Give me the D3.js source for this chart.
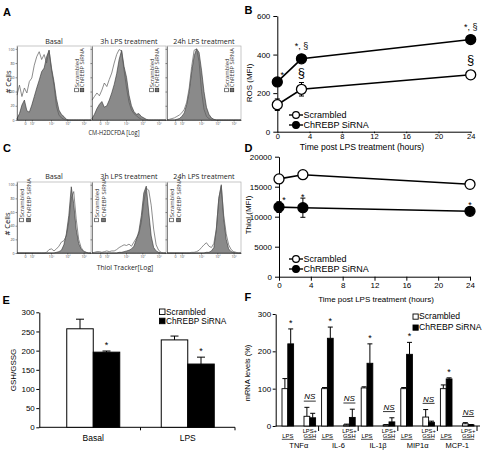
<!DOCTYPE html>
<html><head><meta charset="utf-8">
<script src="https://cdn.jsdelivr.net/npm/d3@7/dist/d3.min.js"></script>
<style>
html,body{margin:0;padding:0;background:#fff;}
svg{display:block;}
</style></head><body>
<svg id="fig" width="486" height="458"></svg>
<script>
// ---------------- DATA ----------------
const seriesNames = ["Scrambled", "ChREBP SiRNA"];
const histTitles = ["Basal", "3h LPS treatment", "24h LPS treatment"];
const histTickBins = [3.3, 6, 13.8, 20.4, 27];
const histTickLabels = ["0", "10²", "10³", "10⁴", "10⁵"];
const histYTicks = [0, 20, 40, 60, 80, 100];
// Panel A: CM-H2DCFDA histograms (% of max, 31 bins across the log axis)
const rosHistBasalScr = [35,49,33,45,38,54,59,77,89,96,85,92,80,98,70,49,19,7,3,1,0,0,0,0,0,0,0,0,0,0,0];
const rosHistBasalChr = [2,9,21,28,13,11,21,33,45,56,68,73,89,98,73,54,30,14,8,5,1,0,0,0,0,0,0,0,0,0,0];
const rosHist3hScr = [28,33,38,34,42,52,47,57,66,80,92,99,97,70,45,25,14,9,6,3,1,0,0,0,0,0,0,0,0,0,0];
const rosHist3hChr = [2,8,16,22,26,18,20,28,38,50,65,85,98,75,60,35,20,12,8,9,5,3,1,0,0,0,0,0,0,0,0];
const rosHist24hScr = [0,1,2,3,5,7,10,15,25,45,75,98,100,82,40,15,5,2,0,0,0,0,0,0,0,0,0,0,0,0,0];
const rosHist24hChr = [0,0,0,0,1,2,5,10,22,40,68,90,100,95,70,40,18,8,3,1,0,0,0,0,0,0,0,0,0,0,0];
// Panel C: Thiol Tracker histograms
const thiolHistBasalScr = [0,0,0,0,0,0,0,0,0,0,0,0,1,5,6,3,6,10,16,18,25,45,80,90,50,20,8,3,1,0,0];
const thiolHistBasalChr = [0,0,0,0,0,0,0,0,0,0,0,0,0,0,0,0,1,2,4,12,28,55,97,72,35,14,6,2,1,0,0];
const thiolHist3hScr = [0,1,2,2,1,2,3,2,3,3,5,8,10,12,11,13,10,16,22,28,45,75,95,92,70,35,12,4,1,0,0];
const thiolHist3hChr = [0,0,0,0,0,0,0,0,0,0,0,1,1,2,3,4,6,10,20,32,55,88,98,60,25,8,3,1,0,0,0];
const thiolHist24hScr = [0,0,0,0,0,0,0,0,0,0,1,1,2,4,8,12,15,10,8,14,35,80,98,55,28,12,5,2,1,0,0];
const thiolHist24hChr = [0,0,0,0,0,0,0,0,0,0,0,0,0,0,0,0,1,1,3,8,35,80,100,50,20,6,2,1,0,0,0];
// Panel B: ROS (MFI)
const timeHours = [0, 3, 24];
const timeTicks = [0, 4, 8, 12, 16, 20, 24];
const rosTicks = [0, 200, 400, 600];
const rosScr = [140, 220, 295], rosScrErr = [30, 35, 8];
const rosChr = [258, 378, 478], rosChrErr = [12, 15, 12];
const rosScrMarks = ["", "§", "§"];
const rosChrMarks = ["*", "*, §", "*, §"];
// Panel D: Thiol (MFI)
const thiolTicks = [0, 5000, 10000, 15000, 20000];
const thiolScr = [16300, 17000, 15400], thiolScrErr = [500, 300, 300];
const thiolChr = [11600, 11500, 10900], thiolChrErr = [900, 1600, 400];
const thiolScrMarks = ["", "", ""];
const thiolChrMarks = ["*", "*", "*"];
// Panel E: GSH/GSSG
const gshGroups = ["Basal", "LPS"];
const gshTicks = [0, 50, 100, 150, 200, 250, 300];
const gshScr = [257, 228], gshScrErr = [25, 10];
const gshChr = [196, 165], gshChrErr = [3, 18];
const gshChrMarks = ["*", "*"];
// Panel F: mRNA levels (%)
const genes = ["TNFα", "IL-6", "IL-1β", "MIP1α", "MCP-1"];
const conditions = ["LPS", "LPS+GSH"];
const conditionLabels = [["LPS"], ["LPS+", "GSH"]];
const mrnaTicks = [0, 100, 200, 300];
const mrnaScrLPS = [100, 100, 102, 100, 100], mrnaScrLPSErr = [27, 3, 3, 3, 10];
const mrnaChrLPS = [220, 235, 168, 192, 126], mrnaChrLPSErr = [40, 30, 52, 32, 3];
const mrnaScrGSH = [26, 3, 3, 24, 6], mrnaScrGSHErr = [24, 2, 1, 20, 3];
const mrnaChrGSH = [22, 23, 11, 10, 3], mrnaChrGSHErr = [12, 22, 11, 3, 1];

// ---------------- DRAWING ----------------
const fig = d3.select("#fig");
const SANS = "'Liberation Sans', Arial, sans-serif";
const OPEN = "'Open Sans', sans-serif";
const HN = rosHistBasalScr.length;

function styleAxis(a, fs, family) {
  a.selectAll("text").attr("font-size", fs).attr("font-family", family).attr("fill", "#000");
  a.selectAll("line,path").attr("stroke", "#000").attr("stroke-width", 1);
}

function histPanel(x0, y0, w, h, scr, chr, showY, legX, legSp, legY, title, titleY) {
  const g = fig.append("g").attr("transform", `translate(${x0},${y0})`);
  const xs = d3.scaleLinear().domain([0, HN - 1]).range([0, w]);
  const ys = d3.scaleLinear().domain([0, 104]).range([h, 0]);
  g.append("rect").attr("width", w).attr("height", h).attr("fill", "#fff")
    .attr("stroke", "#b0b0b0").attr("stroke-width", 0.7);
  g.append("path").datum(chr)
    .attr("d", d3.area().x((d, i) => xs(i)).y0(h).y1(d => ys(d)))
    .attr("fill", "#8a8a8a").attr("stroke", "#333").attr("stroke-width", 0.6);
  g.append("path").datum(scr)
    .attr("d", d3.line().x((d, i) => xs(i)).y(d => ys(d)))
    .attr("fill", "none").attr("stroke", "#5c5c5c").attr("stroke-width", 0.7);
  const xa = g.append("g").attr("transform", `translate(0,${h})`)
    .call(d3.axisBottom(xs).tickValues(histTickBins).tickFormat((d, i) => histTickLabels[i])
      .tickSize(1.5).tickPadding(1).tickSizeOuter(0));
  const ya = g.append("g")
    .call(d3.axisLeft(ys).tickValues(histYTicks).tickFormat(showY ? d3.format("d") : () => "")
      .tickSize(1.5).tickPadding(1).tickSizeOuter(0));
  [xa, ya].forEach(a => {
    a.selectAll("text").attr("font-size", 3.6).attr("font-family", OPEN).attr("fill", "#444");
    a.selectAll("line,path").attr("stroke", "#222").attr("stroke-width", 0.5);
  });
  fig.append("text").attr("x", x0 + w / 2).attr("y", titleY).attr("text-anchor", "middle")
    .attr("font-family", OPEN).attr("font-size", 7.1).attr("fill", "#222").text(title);
  seriesNames.forEach((s, k) => {
    const cx = legX + k * legSp;
    g.append("rect").attr("x", cx - 1.8).attr("y", legY - 1.8).attr("width", 3.6).attr("height", 3.6)
      .attr("fill", k ? "#777" : "#fff").attr("stroke", "#222").attr("stroke-width", 0.6);
    g.append("text").attr("transform", `translate(${cx},${legY - 2.8}) rotate(-90)`)
      .attr("dominant-baseline", "central").attr("font-size", 5.8).attr("font-family", OPEN)
      .attr("fill", "#333").text(s);
  });
}

const histX = [17, 92, 167], histW = 74;
const rosHists = [[rosHistBasalScr, rosHistBasalChr], [rosHist3hScr, rosHist3hChr], [rosHist24hScr, rosHist24hChr]];
const thiolHists = [[thiolHistBasalScr, thiolHistBasalChr], [thiolHist3hScr, thiolHist3hChr], [thiolHist24hScr, thiolHist24hChr]];
rosHists.forEach((p, k) => histPanel(histX[k], 46, histW, 74, p[0], p[1], k === 0, histW - 14.5, 5.5, 44, histTitles[k], 43.5));
thiolHists.forEach((p, k) => histPanel(histX[k], 182, histW, 71, p[0], p[1], k === 0, 4.5, 7, 38, histTitles[k], 179.3));

function rotText(x, y, txt, fs, family) {
  fig.append("text").attr("transform", `translate(${x},${y}) rotate(-90)`).attr("text-anchor", "middle")
    .attr("dominant-baseline", "central").attr("font-size", fs).attr("font-family", family).attr("fill", "#000").text(txt);
}
rotText(8, 82, "# Cells", 7.5, OPEN);
rotText(7, 224, "# Cells", 7.5, OPEN);
fig.append("text").attr("x", 114).attr("y", 134.5).attr("text-anchor", "middle").attr("font-family", OPEN)
  .attr("font-size", 6.8).attr("textLength", 51).attr("lengthAdjust", "spacingAndGlyphs")
  .attr("fill", "#222").text("CM-H2DCFDA [Log]");
fig.append("text").attr("x", 125).attr("y", 269.5).attr("text-anchor", "middle").attr("font-family", OPEN)
  .attr("font-size", 6.8).attr("fill", "#222").text("Thiol Tracker[Log]");

// ---- line panels B & D ----
function linePanel(c) {
  const x = d3.scaleLinear().domain([0, 24]).range([c.x0, c.x1]);
  const y = d3.scaleLinear().domain([0, c.yMax]).range([c.yb, c.yt]);
  const g = fig.append("g");
  const ya = g.append("g").attr("transform", `translate(${c.x0},0)`)
    .call(d3.axisLeft(y).tickValues(c.yTicks).tickFormat(d3.format("d")).tickSize(4).tickPadding(3).tickSizeOuter(0));
  const xa = g.append("g").attr("transform", `translate(0,${c.yb})`)
    .call(d3.axisBottom(x).tickValues(timeTicks).tickSize(c.xTick).tickPadding(c.xPad).tickSizeOuter(0));
  styleAxis(ya, 8, SANS); styleAxis(xa, c.xTickFs, SANS);
  rotText(c.ylabX, c.ylabY, c.ylab, 8, SANS);
  g.append("text").attr("x", c.xlabX).attr("y", c.xlabY).attr("text-anchor", "middle")
    .attr("font-family", SANS).attr("font-size", c.xlabFs).text("Time post LPS treatment (hours)");
  const r = 5;
  const series = [
    { v: c.scr, e: c.scrErr, m: c.scrMarks, fill: "#fff", big: true },
    { v: c.chr, e: c.chrErr, m: c.chrMarks, fill: "#000", big: false }];
  series.forEach(s => {
    g.append("path").datum(s.v)
      .attr("d", d3.line().x((d, i) => x(timeHours[i])).y(d => y(d)))
      .attr("fill", "none").attr("stroke", "#000").attr("stroke-width", 1.6);
  });
  series.forEach(s => {
    s.v.forEach((v, i) => {
      const cx = x(timeHours[i]);
      g.append("line").attr("x1", cx).attr("x2", cx).attr("y1", y(v - s.e[i])).attr("y2", y(v + s.e[i]))
        .attr("stroke", "#000").attr("stroke-width", 1);
      [v - s.e[i], v + s.e[i]].forEach(t => g.append("line").attr("x1", cx - 2.5).attr("x2", cx + 2.5)
        .attr("y1", y(t)).attr("y2", y(t)).attr("stroke", "#000").attr("stroke-width", 1));
    });
  });
  series.forEach(s => {
    s.v.forEach((v, i) => {
      const cx = x(timeHours[i]);
      g.append("circle").attr("cx", cx).attr("cy", y(v)).attr("r", r)
        .attr("fill", s.fill).attr("stroke", "#000").attr("stroke-width", 1.3);
      const lbl = s.m[i];
      if (!lbl) return;
      const top = Math.min(y(v) - r, y(v + s.e[i]));
      const dx = i === 0 ? 5 : 0;
      let base, fs;
      if (s.big) { fs = 13; base = top - 6; }
      else if (lbl.includes("§")) { fs = 9; base = top - 5; }
      else { fs = 9; base = top + 1.5; }
      g.append("text").attr("x", cx + dx).attr("y", base).attr("text-anchor", "middle")
        .attr("font-family", SANS).attr("font-size", fs).text(lbl);
    });
  });
  seriesNames.forEach((n, k) => {
    const ly = c.legY + k * 10;
    g.append("line").attr("x1", c.legX - 7).attr("x2", c.legX + 7).attr("y1", ly).attr("y2", ly)
      .attr("stroke", "#000").attr("stroke-width", 1.4);
    g.append("circle").attr("cx", c.legX).attr("cy", ly).attr("r", 3.4)
      .attr("fill", k ? "#000" : "#fff").attr("stroke", "#000").attr("stroke-width", 1.2);
    g.append("text").attr("x", c.legX + 7.5).attr("y", ly + 3.2).attr("font-family", SANS)
      .attr("font-size", 9).text(n);
  });
}

linePanel({ x0: 277.3, x1: 470.7, yb: 131.7, yt: 16, yMax: 600, yTicks: rosTicks,
  scr: rosScr, scrErr: rosScrErr, chr: rosChr, chrErr: rosChrErr, scrMarks: rosScrMarks, chrMarks: rosChrMarks,
  xTick: 1.5, xPad: 0, xTickFs: 7.5, ylab: "ROS (MFI)", ylabX: 249, ylabY: 83,
  xlabX: 362, xlabY: 149.5, xlabFs: 8.6, legX: 296, legY: 115 });
linePanel({ x0: 279, x1: 470, yb: 276.7, yt: 156.7, yMax: 20000, yTicks: thiolTicks,
  scr: thiolScr, scrErr: thiolScrErr, chr: thiolChr, chrErr: thiolChrErr, scrMarks: thiolScrMarks, chrMarks: thiolChrMarks,
  xTick: 4, xPad: 2, xTickFs: 8, ylab: "Thiol (MFI)", ylabX: 248, ylabY: 215,
  xlabX: 376, xlabY: 301.5, xlabFs: 8, legX: 296, legY: 259 });

// ---- Panel E ----
(function () {
  const g = fig.append("g");
  const xg = d3.scaleBand().domain(gshGroups).range([46, 235]);
  const xs = d3.scaleBand().domain(seriesNames).range([-26.5, 26.5]);
  const y = d3.scaleLinear().domain([0, 300]).range([427.3, 312.3]);
  const ya = g.append("g").attr("transform", "translate(39.3,0)")
    .call(d3.axisLeft(y).tickValues(gshTicks).tickSize(3).tickPadding(1.5).tickSizeOuter(0));
  styleAxis(ya, 8, SANS);
  g.append("line").attr("x1", 39.3).attr("x2", 235).attr("y1", y(0)).attr("y2", y(0)).attr("stroke", "#000");
  [xg(gshGroups[1]), 235].forEach(t => g.append("line").attr("x1", t).attr("x2", t)
    .attr("y1", y(0)).attr("y2", y(0) + 3).attr("stroke", "#000"));
  gshGroups.forEach((grp, i) => {
    const c = xg(grp) + xg.bandwidth() / 2;
    const vals = [[gshScr[i], gshScrErr[i], "#fff"], [gshChr[i], gshChrErr[i], "#000"]];
    vals.forEach((d, k) => {
      const bx = c + xs(seriesNames[k]);
      g.append("rect").attr("x", bx).attr("y", y(d[0])).attr("width", xs.bandwidth())
        .attr("height", y(0) - y(d[0])).attr("fill", d[2]).attr("stroke", "#000").attr("stroke-width", 1);
      const mx = bx + xs.bandwidth() / 2;
      g.append("line").attr("x1", mx).attr("x2", mx).attr("y1", y(d[0])).attr("y2", y(d[0] + d[1])).attr("stroke", "#000");
      g.append("line").attr("x1", mx - 4).attr("x2", mx + 4).attr("y1", y(d[0] + d[1])).attr("y2", y(d[0] + d[1])).attr("stroke", "#000");
      if (k === 1) g.append("text").attr("x", mx).attr("y", y(d[0] + d[1]) - 3).attr("text-anchor", "middle")
        .attr("font-family", SANS).attr("font-size", 9).text(gshChrMarks[i]);
    });
    g.append("text").attr("x", c).attr("y", 441).attr("text-anchor", "middle")
      .attr("font-family", SANS).attr("font-size", 8.5).text(grp);
  });
  rotText(13, 370, "GSH/GSSG", 8, SANS);
  seriesNames.forEach((n, k) => {
    g.append("rect").attr("x", 159.5).attr("y", 309 + k * 9.2).attr("width", 5.5).attr("height", 5.5)
      .attr("fill", k ? "#000" : "#fff").attr("stroke", "#000").attr("stroke-width", 0.9);
    g.append("text").attr("x", 166).attr("y", 314.6 + k * 9.2).attr("font-family", SANS)
      .attr("font-size", 8.3).text(n);
  });
})();

// ---- Panel F ----
(function () {
  const g = fig.append("g");
  const xg = d3.scaleBand().domain(genes).range([279, 477]);
  const xc = d3.scalePoint().domain(conditions).range([-11, 11]);
  const xs = d3.scaleBand().domain(seriesNames).range([-5.8, 5.8]);
  const y = d3.scaleLinear().domain([0, 300]).range([426, 314]);
  const ya = g.append("g").attr("transform", "translate(275.7,0)")
    .call(d3.axisLeft(y).tickValues(mrnaTicks).tickSize(3).tickPadding(1.5).tickSizeOuter(0));
  styleAxis(ya, 8, SANS);
  g.append("line").attr("x1", 275.7).attr("x2", 480).attr("y1", y(0)).attr("y2", y(0)).attr("stroke", "#000");
  genes.slice(1).map(gn => xg(gn)).concat([477]).forEach(t => g.append("line").attr("x1", t).attr("x2", t)
    .attr("y1", y(0)).attr("y2", y(0) + 5).attr("stroke", "#000"));
  genes.forEach((gn, i) => {
    const gc = xg(gn) + xg.bandwidth() / 2;
    conditions.forEach((cond, j) => {
      const cc = gc + xc(cond);
      const vals = j === 0
        ? [[mrnaScrLPS[i], mrnaScrLPSErr[i], "#fff"], [mrnaChrLPS[i], mrnaChrLPSErr[i], "#000"]]
        : [[mrnaScrGSH[i], mrnaScrGSHErr[i], "#fff"], [mrnaChrGSH[i], mrnaChrGSHErr[i], "#000"]];
      let topMax = Infinity;
      vals.forEach((d, k) => {
        const bx = cc + xs(seriesNames[k]);
        const mx = bx + xs.bandwidth() / 2;
        g.append("line").attr("x1", mx).attr("x2", mx).attr("y1", y(d[0])).attr("y2", y(d[0] + d[1])).attr("stroke", "#000");
        g.append("line").attr("x1", mx - 2.5).attr("x2", mx + 2.5).attr("y1", y(d[0] + d[1])).attr("y2", y(d[0] + d[1])).attr("stroke", "#000");
        g.append("rect").attr("x", bx).attr("y", y(d[0])).attr("width", xs.bandwidth())
          .attr("height", y(0) - y(d[0])).attr("fill", d[2]).attr("stroke", "#000").attr("stroke-width", 0.9);
        topMax = Math.min(topMax, y(d[0] + d[1]));
        if (j === 0 && k === 1) g.append("text").attr("x", mx).attr("y", y(d[0] + d[1]) - 3)
          .attr("text-anchor", "middle").attr("font-family", SANS).attr("font-size", 9).text("*");
      });
      if (j === 1) {
        const b = topMax - 8;
        g.append("text").attr("x", cc).attr("y", b).attr("text-anchor", "middle").attr("font-family", SANS)
          .attr("font-style", "italic").attr("font-size", 8).text("NS");
        g.append("line").attr("x1", cc - 6).attr("x2", cc + 6).attr("y1", b + 1.8).attr("y2", b + 1.8)
          .attr("stroke", "#000").attr("stroke-width", 0.8);
      }
      const labs = conditionLabels[j];
      labs.forEach((t, q) => g.append("text").attr("x", cc).attr("y", 437.7 - (labs.length - 1 - q) * 5)
        .attr("text-anchor", "middle").attr("font-family", SANS).attr("font-size", 5.8).text(t));
      g.append("line").attr("x1", cc - 6).attr("x2", cc + 6).attr("y1", 439.3).attr("y2", 439.3)
        .attr("stroke", "#000").attr("stroke-width", 0.7);
    });
    g.append("text").attr("x", gc).attr("y", 447.5).attr("text-anchor", "middle").attr("font-family", SANS)
      .attr("font-size", 7.5).text(gn);
  });
  rotText(247, 373, "mRNA levels (%)", 7.5, SANS);
  seriesNames.forEach((n, k) => {
    g.append("rect").attr("x", 413).attr("y", 314 + k * 11).attr("width", 5.2).attr("height", 5.2)
      .attr("fill", k ? "#000" : "#fff").attr("stroke", "#000").attr("stroke-width", 0.9);
    g.append("text").attr("x", 419).attr("y", 319.4 + k * 11).attr("font-family", SANS)
      .attr("font-size", 8.6).text(n);
  });
})();

// ---- panel letters ----
const panelLetters = ["A", "B", "C", "D", "E", "F"];
const letterPos = [[3, 16], [244.5, 13.5], [3, 152], [244.5, 152], [2.5, 303.5], [244.5, 300.5]];
panelLetters.forEach((L, i) => fig.append("text").attr("x", letterPos[i][0]).attr("y", letterPos[i][1])
  .attr("font-family", SANS).attr("font-weight", "bold").attr("font-size", 11).text(L));
</script>
</body></html>
